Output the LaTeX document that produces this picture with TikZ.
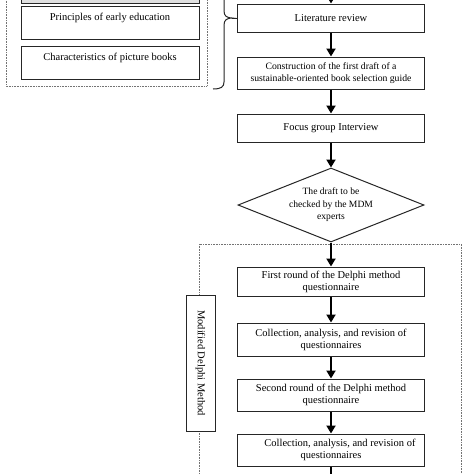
\documentclass[tikz,border=0pt]{standalone}
\usepackage{fontspec}
\setmainfont{Liberation Serif}
\usetikzlibrary{arrows.meta,shapes.geometric}
\begin{document}
\begin{tikzpicture}[x=1pt,y=-1pt,
  box/.style={draw=black!85, line width=1pt, fill=white, minimum width=187pt, inner sep=2pt, align=center, font=\fontsize{10.5}{12}\selectfont},
  lbox/.style={box, minimum width=178pt, minimum height=33pt, text height=7pt, text depth=12pt},
  flow/.style={line width=2.8pt, -{Triangle[length=8pt,width=9pt]}},
  dots/.style={draw=black!55, line width=0.8pt, dash pattern=on 0.8pt off 0.8pt}]
\useasboundingbox (0,0) rectangle (474,474);
\clip (0,0) rectangle (474,474);
\fill[white] (0,0) rectangle (474,474);

% left group
\draw[dots] (6,-20) rectangle (207,86);
\node[box, fill=black!12, minimum width=178pt, minimum height=30pt] (topbox) at (110,-12) {};
\node[lbox] (pri) at (110,22.5) {Principles of early education};
\node[lbox] (cha) at (110,62.5) {Characteristics of picture books};

% main flow
\node[box, minimum height=28pt] (lit) at (331,18) {Literature review};
\node[box, minimum height=32pt, font=\fontsize{9.7}{12}\selectfont] (con) at (331,73) {Construction of the first draft of a\\sustainable-oriented book selection guide};
\node[box, minimum height=28pt] (foc) at (331,128) {Focus group Interview};
\node[diamond, draw=black!85, line width=1pt, fill=white, minimum width=186pt, minimum height=74pt, inner sep=0pt, aspect=2.5, align=center, font=\fontsize{9.6}{12.5}\selectfont] (dia) at (331,205) {The draft to be\\checked by the MDM\\experts};

% Delphi group
\draw[dots] (199,244) rectangle (461,490);
\node[box, minimum height=29pt] (r1) at (331,281.5) {First round of the Delphi method\\questionnaire};
\node[box, minimum height=33pt] (c1) at (331,339.5) {Collection, analysis, and revision of\\questionnaires};
\node[box, minimum height=32pt] (r2) at (331,395) {Second round of the Delphi method\\questionnaire};
\node[box, minimum height=32pt] (c2) at (331,450) {\hspace*{18pt}Collection, analysis, and revision of\\questionnaires};
\node[box, rotate=-90, minimum width=136pt, minimum height=29pt] (mdm) at (200.5,363) {Modified Delphi Method};

% brace
\coordinate (tip) at (232,18);
\draw[line width=1pt, black!85] (213,89) .. controls (221,89) and (224,87) .. (224,82) -- (224,25) .. controls (224,20) and (227,18) .. (tip) .. controls (227,18) and (224,16) .. (224,11) -- (224,-40);
\draw[line width=0.9pt, black!85] (tip) -- (lit.west);

% arrows
\coordinate (in) at (331,-12);
\coordinate (out) at (331,490);
\draw[flow] (in) -- (lit);
\draw[flow] (lit) -- (con);
\draw[flow] (con) -- (foc);
\draw[flow] (foc) -- (dia);
\draw[flow] (dia) -- (r1);
\draw[flow] (r1) -- (c1);
\draw[flow] (c1) -- (r2);
\draw[flow] (r2) -- (c2);
\draw[line width=2.8pt] (c2) -- (out);
\end{tikzpicture}
\end{document}
